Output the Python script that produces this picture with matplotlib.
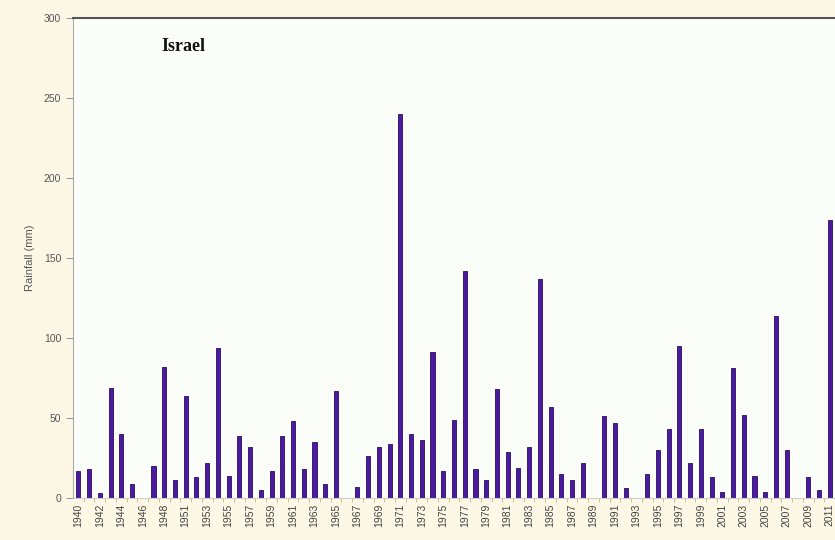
import matplotlib.pyplot as plt
import numpy as np

years = list(range(1940, 1949)) + list(range(1950, 2012))
rain = [17, 18, 3, 69, 40, 9, 0, 20, 82, 11,
        64, 13, 22, 94, 14, 39, 32, 5, 17, 39,
        48, 18, 35, 9, 67, 0, 7, 26, 32, 34,
        240, 40, 36, 91, 17, 49, 142, 18, 11, 68,
        29, 19, 32, 137, 57, 15, 11, 22, 0, 51,
        47, 6, 0, 15, 30, 43, 95, 22, 43, 13,
        4, 81, 52, 14, 4, 114, 30, 0, 13, 5,
        174]

fig = plt.figure(figsize=(8.35, 5.4), dpi=100)
fig.patch.set_facecolor('#fdf8e6')
ax = fig.add_axes([73 / 835, 42 / 540, 1 - 73 / 835, 480 / 540])
ax.set_facecolor('#fbfdf8')

x = np.arange(len(years))
ax.bar(x, rain, width=0.38, color='#4b1aa0', edgecolor='#2a0c5e', linewidth=0.6)

ax.set_xlim(-0.5, 70.25)
ax.set_ylim(0, 300)
ax.set_yticks(range(0, 301, 50))
ax.set_xticks(x[::2])
ax.set_xticklabels([str(y) for y in years[::2]], rotation=90, fontsize=7.5,
                   color='#444', family='Liberation Sans')
ax.set_xticks(x + 0.5, minor=True)
ax.tick_params(axis='x', which='major', length=0, pad=4)
ax.tick_params(axis='x', which='minor', length=3, color='#c8b878')
ax.tick_params(axis='y', length=5, color='#999', labelsize=7.5, labelcolor='#555')
for lab in ax.get_yticklabels():
    lab.set_family('Liberation Sans')

ax.spines['right'].set_visible(False)
ax.spines['top'].set_color('#555')
ax.spines['top'].set_linewidth(1.5)
ax.spines['left'].set_color('#aaa')
ax.spines['bottom'].set_color('#ccc')

ax.set_ylabel('Rainfall (mm)', fontsize=8, color='#555', family='Liberation Sans', labelpad=6)
ax.text(0.145, 0.94, 'Israel', transform=ax.transAxes, ha='center', va='center',
        fontsize=13, fontweight='bold', family='Liberation Serif', color='#111')

fig.savefig('out.png', dpi=100, facecolor=fig.get_facecolor())
